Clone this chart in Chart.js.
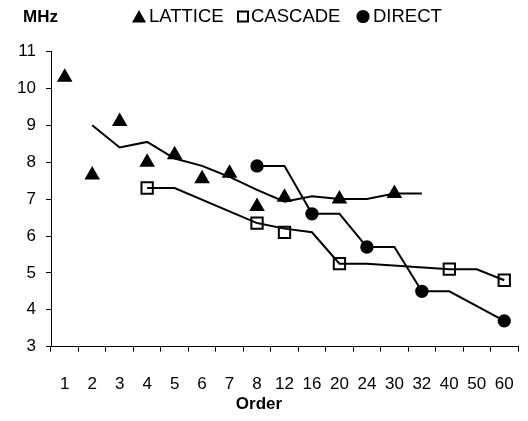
<!DOCTYPE html>
<html>
<head>
<meta charset="utf-8">
<script src="https://cdn.jsdelivr.net/npm/chart.js@4"></script>
<style>
    html, body { margin: 0; padding: 0; background: #fff; }
    #wrap { width: 528px; height: 421px; }
</style>
</head>
<body>
<div id="wrap"><canvas id="chart"></canvas></div>
<script>
const orders = ["1", "2", "3", "4", "5", "6", "7", "8", "12", "16", "20", "24", "30", "32", "40", "50", "60"];

const lattice = [10.3, 7.65, 9.1, 8.0, 8.2, 7.55, 7.7, 6.8, 7.05, null, 7.0, null, 7.15, null, null, null, null];
const cascade = [null, null, null, 7.3, null, null, null, 6.35, 6.1, null, 5.25, null, null, null, 5.1, null, 4.8];
const direct = [null, null, null, null, null, null, null, 7.9, null, 6.6, null, 5.7, null, 4.5, null, null, 3.7];

// trend lines
const latticeTrend = [null, 9.0, 8.4, 8.55, 8.1, 7.9, 7.6, 7.25, 6.93, 7.08, 7.0, 7.0, 7.15, 7.15, null, null, null];
const cascadeTrend = [null, null, null, 7.3, 7.3, null, null, 6.35, 6.2, 6.1, 5.25, 5.25, null, null, 5.1, 5.1, 4.8];
const directTrend = [null, null, null, null, null, null, null, 7.9, 7.9, 6.6, 6.6, 5.7, 5.7, 4.5, 4.5, null, 3.7];

const yTicks = [3, 4, 5, 6, 7, 8, 9, 10, 11];

const FONT = "'Liberation Sans', Arial, sans-serif";

// legend placement (symbol centre, text start)
const legendSymbolX = [139, 243, 363];
const legendTextX = [149, 251, 373];
const legendY = 16.5;

function trend(data) {
    return {
        label: "",
        data: data,
        borderColor: "#000",
        borderWidth: 2,
        pointRadius: 0,
        fill: false,
        tension: 0,
        spanGaps: true
    };
}

function marks(label, data, style, radius, fill) {
    return {
        label: label,
        data: data,
        showLine: false,
        pointStyle: style,
        pointRadius: radius,
        pointBackgroundColor: fill,
        pointBorderColor: "#000",
        pointBorderWidth: 2,
        backgroundColor: fill,
        borderColor: "#000",
        borderWidth: 2
    };
}

function drawSymbol(ctx, style, fill, x, y) {
    ctx.beginPath();
    if (style === "triangle") {
        ctx.moveTo(x, y - 6.5);
        ctx.lineTo(x + 7, y + 6);
        ctx.lineTo(x - 7, y + 6);
        ctx.closePath();
        ctx.fillStyle = fill;
        ctx.fill();
    } else if (style === "rect") {
        ctx.rect(x - 5, y - 5, 10, 10);
        ctx.fillStyle = fill;
        ctx.fill();
        ctx.lineWidth = 2;
        ctx.strokeStyle = "#000";
        ctx.stroke();
    } else {
        ctx.arc(x, y, 6.6, 0, Math.PI * 2);
        ctx.fillStyle = fill;
        ctx.fill();
    }
}

const headerPlugin = {
    id: "header",
    afterDraw(chart) {
        const ctx = chart.ctx;
        ctx.save();
        ctx.textBaseline = "middle";
        ctx.fillStyle = "#000";
        ctx.font = "bold 17px " + FONT;
        ctx.fillText("MHz", 23, 17);

        ctx.font = "18.5px " + FONT;
        const items = chart.data.datasets.filter(d => d.label !== "");
        items.forEach((d, i) => {
            drawSymbol(ctx, d.pointStyle, d.pointBackgroundColor, legendSymbolX[i], legendY);
            ctx.fillStyle = "#000";
            ctx.fillText(d.label, legendTextX[i], legendY);
        });
        ctx.restore();
    }
};

new Chart(document.getElementById("chart"), {
    type: "line",
    data: {
        labels: orders,
        datasets: [
            trend(latticeTrend),
            trend(cascadeTrend),
            trend(directTrend),
            marks("LATTICE", lattice, "triangle", 7, "#000"),
            marks("CASCADE", cascade, "rect", 8, "#fff"),
            marks("DIRECT", direct, "circle", 5.7, "#000")
        ]
    },
    options: {
        responsive: true,
        maintainAspectRatio: false,
        animation: false,
        layout: {
            padding: { left: 0, right: 10, top: 51.5, bottom: 6.5 }
        },
        plugins: {
            legend: { display: false },
            title: {
                display: true,
                position: "bottom",
                text: "Order",
                color: "#000",
                font: { family: FONT, size: 17, weight: "bold" },
                padding: { top: 0, bottom: 0 }
            },
            tooltip: { enabled: false }
        },
        scales: {
            x: {
                type: "category",
                offset: true,
                afterFit: (scale) => {
                    scale.height = 47.4;
                    scale.paddingLeft = 0;
                    scale.paddingRight = 0;
                },
                grid: {
                    offset: true,
                    drawOnChartArea: false,
                    drawTicks: true,
                    tickLength: 5,
                    color: "#000"
                },
                border: { display: true, color: "#000", width: 1 },
                ticks: {
                    color: "#000",
                    padding: 22,
                    maxRotation: 0,
                    autoSkip: false,
                    font: { family: FONT, size: 17 }
                }
            },
            y: {
                min: yTicks[0],
                max: yTicks[yTicks.length - 1],
                afterFit: (scale) => { scale.width = 51; },
                afterBuildTicks: (scale) => { scale.ticks = yTicks.map(v => ({ value: v })); },
                grid: {
                    drawOnChartArea: false,
                    drawTicks: true,
                    tickLength: 5,
                    color: "#000"
                },
                border: { display: true, color: "#000", width: 1 },
                ticks: {
                    color: "#000",
                    padding: 10,
                    font: { family: FONT, size: 17 }
                }
            }
        }
    },
    plugins: [headerPlugin]
});
</script>
</body>
</html>
